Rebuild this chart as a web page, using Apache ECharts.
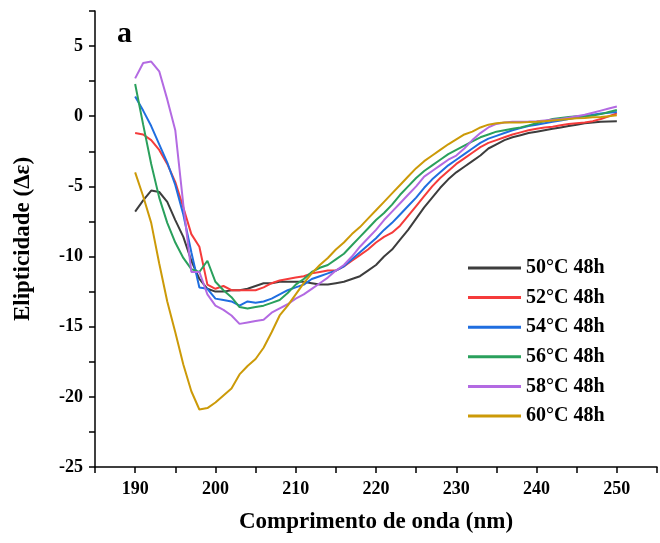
<!DOCTYPE html>
<html><head><meta charset="utf-8">
<script src="https://cdn.jsdelivr.net/npm/echarts@6/dist/echarts.min.js"></script>
<style>html,body{margin:0;padding:0;background:#fff}#c{width:660px;height:543px}</style>
</head><body><div id="c"></div>
<script>
var wavelengths = [];
for (var w = 190; w <= 250; w++) wavelengths.push(w);
var seriesNames = ['50°C 48h','52°C 48h','54°C 48h','56°C 48h','58°C 48h','60°C 48h'];
var s50 = [-6.8,-6.0,-5.3,-5.4,-6.1,-7.4,-8.6,-10.3,-11.6,-12.3,-12.5,-12.5,-12.4,-12.4,-12.3,-12.1,-11.9,-11.9,-11.8,-11.8,-11.8,-11.8,-11.9,-12.0,-12.0,-11.9,-11.8,-11.6,-11.4,-11.0,-10.6,-10.0,-9.5,-8.8,-8.1,-7.3,-6.5,-5.8,-5.1,-4.5,-4.0,-3.6,-3.2,-2.8,-2.3,-2.0,-1.7,-1.5,-1.35,-1.2,-1.1,-1.0,-0.9,-0.8,-0.7,-0.6,-0.5,-0.45,-0.4,-0.37,-0.36];
var s52 = [-1.2,-1.3,-1.7,-2.4,-3.4,-4.7,-6.5,-8.4,-9.3,-12.0,-12.3,-12.1,-12.4,-12.4,-12.4,-12.4,-12.2,-11.9,-11.7,-11.6,-11.5,-11.4,-11.2,-11.1,-11.0,-11.0,-10.7,-10.3,-9.9,-9.5,-9.0,-8.6,-8.3,-7.8,-7.1,-6.4,-5.7,-5.0,-4.4,-3.9,-3.4,-3.0,-2.6,-2.2,-1.9,-1.7,-1.5,-1.3,-1.15,-1.0,-0.9,-0.8,-0.75,-0.65,-0.55,-0.5,-0.45,-0.35,-0.2,0.0,0.2];
var s54 = [1.4,0.4,-0.7,-2.0,-3.3,-4.9,-7.0,-9.7,-12.2,-12.3,-13.0,-13.1,-13.2,-13.5,-13.2,-13.3,-13.2,-13.0,-12.7,-12.4,-12.2,-12.0,-11.6,-11.4,-11.2,-11.0,-10.7,-10.2,-9.7,-9.2,-8.7,-8.1,-7.6,-7.0,-6.4,-5.8,-5.1,-4.5,-4.0,-3.5,-3.1,-2.7,-2.3,-1.9,-1.6,-1.4,-1.2,-1.0,-0.85,-0.7,-0.6,-0.5,-0.4,-0.3,-0.2,-0.1,0.0,0.1,0.2,0.25,0.3];
var s56 = [2.3,-0.6,-3.4,-5.8,-7.6,-9.0,-10.1,-10.9,-11.1,-10.3,-11.8,-12.4,-12.9,-13.6,-13.7,-13.6,-13.5,-13.3,-13.1,-12.6,-12.0,-11.6,-11.1,-10.8,-10.6,-10.2,-9.8,-9.2,-8.6,-8.0,-7.4,-6.9,-6.3,-5.6,-5.0,-4.4,-3.9,-3.5,-3.1,-2.7,-2.4,-2.1,-1.8,-1.5,-1.3,-1.1,-1.0,-0.9,-0.8,-0.65,-0.5,-0.35,-0.2,-0.12,-0.06,0.0,0.0,0.05,0.15,0.3,0.45];
var s58 = [2.7,3.8,3.9,3.2,1.2,-1.0,-6.3,-11.1,-11.1,-12.7,-13.5,-13.8,-14.2,-14.8,-14.7,-14.6,-14.5,-14.0,-13.7,-13.4,-13.0,-12.7,-12.3,-11.9,-11.5,-11.0,-10.6,-10.0,-9.3,-8.7,-8.1,-7.4,-6.8,-6.2,-5.6,-5.0,-4.3,-3.9,-3.5,-3.1,-2.8,-2.3,-1.7,-1.2,-0.8,-0.55,-0.45,-0.4,-0.4,-0.38,-0.35,-0.3,-0.25,-0.2,-0.1,0.0,0.1,0.25,0.4,0.55,0.7];
var s60 = [-4.0,-5.7,-7.6,-10.5,-13.2,-15.4,-17.7,-19.6,-20.9,-20.8,-20.4,-19.9,-19.4,-18.4,-17.8,-17.3,-16.5,-15.4,-14.2,-13.5,-12.7,-11.9,-11.2,-10.6,-10.1,-9.5,-9.0,-8.4,-7.9,-7.3,-6.7,-6.1,-5.5,-4.9,-4.3,-3.7,-3.2,-2.8,-2.4,-2.0,-1.65,-1.3,-1.1,-0.8,-0.6,-0.5,-0.45,-0.45,-0.45,-0.42,-0.4,-0.35,-0.3,-0.25,-0.2,-0.15,-0.12,-0.08,-0.05,0.0,0.07];
var allSeries = [s50,s52,s54,s56,s58,s60];
var colors = ['#3d3d3d','#f53b3b','#1f6ee0','#2aa05c','#b36ae2','#cc9a08'];

var font = "'Liberation Serif','Times New Roman',serif";
var chart = echarts.init(document.getElementById('c'), null, {renderer:'canvas'});
var series = allSeries.map(function(arr, i){
  return {
    name: seriesNames[i], type: 'line', showSymbol: false, symbol: 'none',
    data: wavelengths.map(function(x, j){ return [x, arr[j]]; }),
    lineStyle: {width: 2, color: colors[i]}, itemStyle: {color: colors[i]},
    animation: false
  };
});
chart.setOption({
  backgroundColor: '#fff',
  animation: false,
  title: {text: 'a', left: 112, top: 14, textStyle: {fontFamily: font, fontWeight: 'bold', fontSize: 30, color: '#000'}},
  grid: {left: 95, right: 2, top: 11, bottom: 76, containLabel: false},
  legend: {
    orient: 'vertical', left: 463, top: 253, itemWidth: 53, itemHeight: 3, itemGap: 9.6,
    icon: 'rect', data: seriesNames,
    textStyle: {fontFamily: font, fontWeight: 'bold', fontSize: 20, color: '#000', lineHeight: 20}
  },
  xAxis: {
    type: 'value', min: 185, max: 255, interval: 5,
    name: 'Comprimento de onda (nm)', nameLocation: 'middle', nameGap: 44,
    nameTextStyle: {fontFamily: font, fontWeight: 'bold', fontSize: 23, color: '#000'},
    axisLine: {onZero: false, lineStyle: {color: '#000', width: 1.5}},
    axisTick: {show: true, inside: false, length: 6, lineStyle: {color: '#000', width: 1.5}},
    axisLabel: {fontFamily: font, fontWeight: 'bold', fontSize: 18, color: '#000', margin: 13,
      formatter: function(v){ return (v % 10 === 0) ? String(v) : ''; }},
    splitLine: {show: false}
  },
  yAxis: {
    type: 'value', min: -25, max: 7.5, interval: 2.5,
    name: 'Elipticidade (Δε)', nameLocation: 'middle', nameGap: 60, nameRotate: 90,
    nameTextStyle: {fontFamily: font, fontWeight: 'bold', fontSize: 23, color: '#000'},
    axisLine: {show: true, onZero: false, lineStyle: {color: '#000', width: 1.5}},
    axisTick: {show: true, inside: false, length: 6, lineStyle: {color: '#000', width: 1.5}},
    axisLabel: {fontFamily: font, fontWeight: 'bold', fontSize: 18, color: '#000', margin: 12,
      formatter: function(v){ return (Math.abs(v % 5) < 1e-9) ? String(v) : ''; }},
    splitLine: {show: false}
  },
  series: series
});
</script></body></html>
